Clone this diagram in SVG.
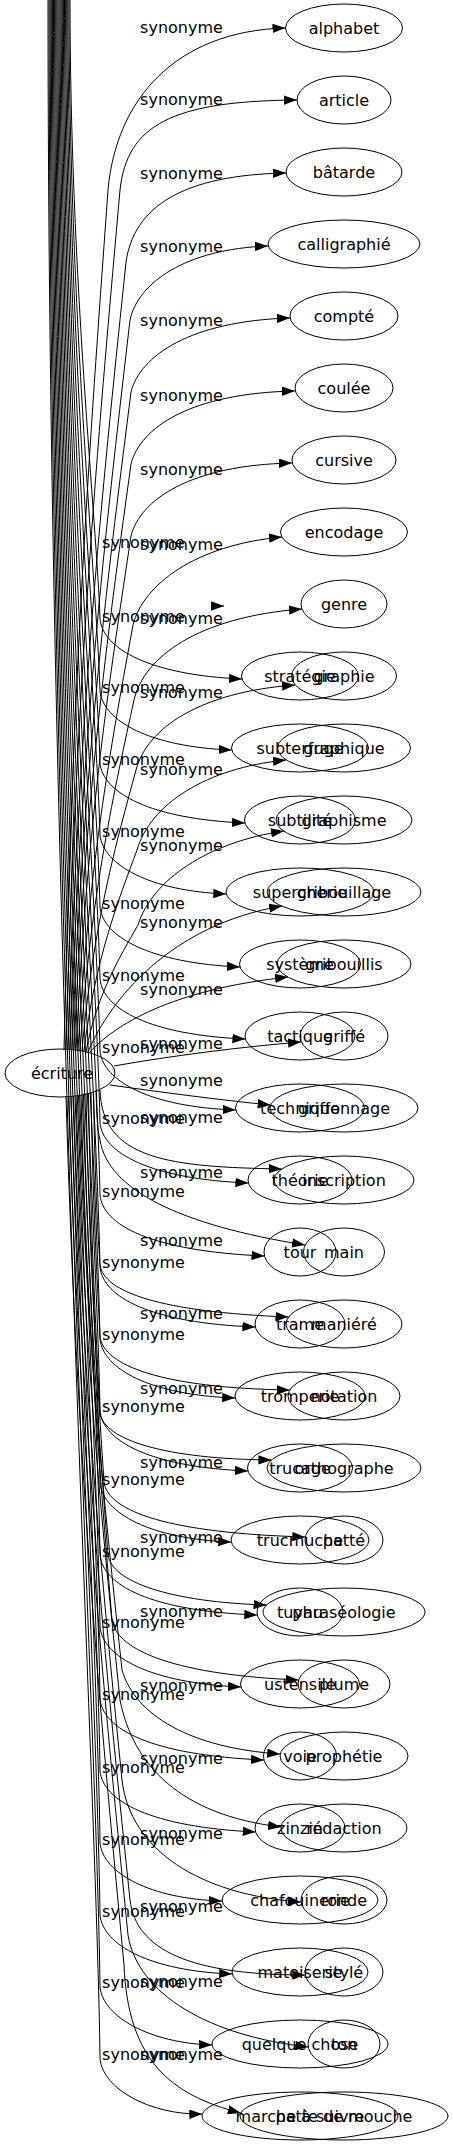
<svg xmlns="http://www.w3.org/2000/svg" width="453" height="2147" viewBox="0 0 453 2147">
<defs>
<style>
.node ellipse{fill:none;stroke:#000;stroke-width:1}
text{font-family:"DejaVu Sans","Liberation Sans",sans-serif;font-size:16px;fill:#000;text-anchor:middle}
#edges path{fill:none;stroke:#000;stroke-width:1;marker-end:url(#arr)}
</style>
<marker id="arr" viewBox="0 0 13 9.4" refX="13" refY="4.7" markerWidth="13" markerHeight="9.4" markerUnits="userSpaceOnUse" orient="auto"><path d="M0,0 L13,4.7 L0,9.4 z" fill="#000"/></marker>
</defs>
<rect width="453" height="2147" fill="#fff"/>
<g id="edges">
<path d="M64,1050 C72.8,663 92.6,405 108,190 C116,100 175,31 285.5,28"/>
<path d="M66,1050 C76.8,663 101.1,405 120,190 C127,125 172,101 297,100"/>
<path d="M68,1050 C79.6,695 105.7,459 126,262 C134,207 182,175 286,173"/>
<path d="M70,1050 C82,721.5 109,502.5 130,320 C138,283 185,249 268,246"/>
<path d="M72,1050 C83.8,754 110.4,556.5 131,392 C140,356 190,321 290,318"/>
<path d="M74,1050 C85.4,786 111,610.5 131,464 C140,428 190,393 295,391"/>
<path d="M76,1050 C87,819 111.75,664.5 131,536 C140,500 190,465 292,463"/>
<path d="M78,1050 C89,859 113.75,731 133,625 C143,585 195,545 282,537"/>
<path d="M80,1050 C90.8,892.5 115.1,787.5 134,700 C144,657 198,617 302,609"/>
<path d="M82,1051 C92.8,924.5 117.1,840 136,770 C147,728 200,692 295,685"/>
<path d="M84,1051 C94.6,960.5 118.5,900 137,850 C150,805 205,768 286,760"/>
<path d="M86,1052 C96.4,995 119.8,957 138,925 C152,880 208,842 284,831"/>
<path d="M88,1052 C110,1000 170,925 282,906"/>
<path d="M90,1052 C115,1025 170,990 288,977"/>
<path d="M114,1066 C170,1056 240,1047 301,1042"/>
<path d="M110,1085 C160,1092 220,1100 270.6,1105"/>
<path d="M100,1090 C102,1160 170,1167 281.8,1169"/>
<path d="M96,1091 C96.8,1113 97,1128 100,1140 C108,1190 180,1225 305,1245"/>
<path d="M93.5,1092 C94.8,1170 97,1222 100,1265 C104,1292 160,1312 288.5,1317"/>
<path d="M91,1093 C92.8,1203 97,1276 100,1337 C104,1365 160,1388 289.8,1390"/>
<path d="M88.5,1093.5 C90.8,1237 96,1333 100,1413 C104,1440 165,1459 271.4,1460"/>
<path d="M86,1094 C89.6,1268.6 97.7,1385 104,1482 C108,1512 170,1533 305.3,1537"/>
<path d="M83.5,1094.7 C88.4,1301.7 99.4,1440 108,1555 C112,1582 170,1602 266.5,1605"/>
<path d="M81,1095 C87.2,1331 101.2,1489 112,1620 C117,1652 180,1675 298.6,1680"/>
<path d="M78.5,1095.6 C87.2,1354 106.8,1526.5 122,1670 C135,1715 190,1748 280.2,1754"/>
<path d="M76,1096 C84.8,1368 104.6,1549 120,1700 C133,1765 180,1815 281,1827"/>
<path d="M73.5,1096.3 C83.2,1404 105,1609 122,1780 C130,1850 200,1895 301,1902"/>
<path d="M71,1096.5 C82.8,1458 109.35,1701 130,1900 C136,1950 190,1975 305.3,1975"/>
<path d="M68.5,1096.7 C80.4,1474 107.2,1725 128,1935 C138,1995 210,2036 308.3,2047"/>
<path d="M66,1096.9 C77.6,1487.5 103.7,1748 124,1965 C128,2060 170,2095 240.8,2113"/>
<path d="M212,606 L224,606"/>
<path d="M70,-2 C70,277.6 97,524.7 100,619 C103,649 150,675 242,679"/>
<path d="M68.9,-2 C68.9,311 97,588 100,691 C103,721 150,747 231.7,750"/>
<path d="M67.8,-2 C67.8,343.4 97,651.4 100,763 C103,793 150,819 245,823"/>
<path d="M66.7,-2 C66.7,375.8 97,714.8 100,835 C103,865 150,891 226.3,894"/>
<path d="M65.6,-2 C65.6,408 97,778 100,907 C103,937 150,963 240,967"/>
<path d="M64.5,-2 C64.5,440.6 97,841.5 100,979 C103,1009 150,1035 245.4,1039"/>
<path d="M63.4,-2 C63.4,473 97,905 100,1051 C103,1081 150,1107 235.7,1110"/>
<path d="M62.3,-2 C62.3,505.4 97,968.2 100,1123 C103,1153 150,1179 248.4,1183"/>
<path d="M61.2,-2 C61.2,537.8 97,1031.6 100,1195 C103,1225 150,1251 264.5,1256"/>
<path d="M60.1,-2 C60.1,570 97,1095 100,1267 C103,1297 150,1323 255.4,1327"/>
<path d="M59,-2 C59,602.6 97,1158.3 100,1339 C103,1369 150,1395 235.2,1398"/>
<path d="M57.9,-2 C57.9,635 97,1221.7 100,1411 C103,1441 150,1467 247.9,1471"/>
<path d="M56.8,-2 C56.8,667.4 97,1285 100,1483 C103,1513 150,1539 231.2,1542"/>
<path d="M55.7,-2 C55.7,699.8 97,1348.4 100,1555 C103,1585 150,1611 257.3,1615"/>
<path d="M54.6,-2 C54.6,732 97,1411.8 100,1627 C103,1657 150,1683 241,1687"/>
<path d="M53.5,-2 C53.5,764.6 97,1475 100,1699 C103,1729 150,1755 264,1760"/>
<path d="M52.4,-2 C52.4,797 97,1538.5 100,1771 C103,1801 150,1827 255.6,1832"/>
<path d="M51.3,-2 C51.3,829.4 97,1601.8 100,1843 C103,1873 150,1899 222,1901"/>
<path d="M50.2,-2 C50.2,861.8 97,1665.2 100,1915 C103,1945 150,1971 232.2,1974"/>
<path d="M49.1,-2 C49.1,894 97,1728.6 100,1987 C103,2017 150,2043 212,2045"/>
<path d="M48,-2 C48,926.6 97,1792 100,2059 C103,2089 150,2115 202.3,2114"/>
</g>
<g id="edge-labels">
<text x="181.5" y="33">synonyme</text>
<text x="181.5" y="105">synonyme</text>
<text x="181.5" y="179">synonyme</text>
<text x="181.5" y="252">synonyme</text>
<text x="181.5" y="326">synonyme</text>
<text x="181.5" y="401">synonyme</text>
<text x="181.5" y="475">synonyme</text>
<text x="181.5" y="550">synonyme</text>
<text x="181.5" y="624">synonyme</text>
<text x="181.5" y="698">synonyme</text>
<text x="181.5" y="775">synonyme</text>
<text x="181.5" y="851">synonyme</text>
<text x="181.5" y="928">synonyme</text>
<text x="181.5" y="995">synonyme</text>
<text x="181.5" y="1049">synonyme</text>
<text x="181.5" y="1086">synonyme</text>
<text x="181.5" y="1123">synonyme</text>
<text x="181.5" y="1178">synonyme</text>
<text x="181.5" y="1246">synonyme</text>
<text x="181.5" y="1319">synonyme</text>
<text x="181.5" y="1394">synonyme</text>
<text x="181.5" y="1468">synonyme</text>
<text x="181.5" y="1543">synonyme</text>
<text x="181.5" y="1617">synonyme</text>
<text x="181.5" y="1691">synonyme</text>
<text x="181.5" y="1764">synonyme</text>
<text x="181.5" y="1839">synonyme</text>
<text x="181.5" y="1912">synonyme</text>
<text x="181.5" y="1987">synonyme</text>
<text x="181.5" y="2060">synonyme</text>
<text x="143.5" y="548">synonyme</text>
<text x="143.5" y="622">synonyme</text>
<text x="143.5" y="693">synonyme</text>
<text x="143.5" y="765">synonyme</text>
<text x="143.5" y="837">synonyme</text>
<text x="143.5" y="909">synonyme</text>
<text x="143.5" y="981">synonyme</text>
<text x="143.5" y="1053">synonyme</text>
<text x="143.5" y="1124">synonyme</text>
<text x="143.5" y="1197">synonyme</text>
<text x="143.5" y="1268">synonyme</text>
<text x="143.5" y="1340">synonyme</text>
<text x="143.5" y="1412">synonyme</text>
<text x="143.5" y="1485">synonyme</text>
<text x="143.5" y="1557">synonyme</text>
<text x="143.5" y="1628">synonyme</text>
<text x="143.5" y="1700">synonyme</text>
<text x="143.5" y="1773">synonyme</text>
<text x="143.5" y="1845">synonyme</text>
<text x="143.5" y="1917">synonyme</text>
<text x="143.5" y="1988">synonyme</text>
<text x="143.5" y="2060">synonyme</text>
</g>
<g id="ecriture" class="node"><ellipse cx="60" cy="1073" rx="55" ry="24"/><text x="62" y="1079">écriture</text></g>
<g id="alphabet" class="node"><ellipse cx="344" cy="28" rx="58.5" ry="24"/><text x="344" y="34">alphabet</text></g>
<g id="article" class="node"><ellipse cx="344" cy="100" rx="47" ry="24"/><text x="344" y="106">article</text></g>
<g id="batarde" class="node"><ellipse cx="344" cy="172" rx="58" ry="24"/><text x="344" y="178">bâtarde</text></g>
<g id="calligraphie" class="node"><ellipse cx="344" cy="244" rx="76" ry="24"/><text x="344" y="250">calligraphié</text></g>
<g id="compte" class="node"><ellipse cx="344" cy="316" rx="54" ry="24"/><text x="344" y="322">compté</text></g>
<g id="coulee" class="node"><ellipse cx="344" cy="388" rx="49" ry="24"/><text x="344" y="394">coulée</text></g>
<g id="cursive" class="node"><ellipse cx="344" cy="460" rx="52" ry="24"/><text x="344" y="466">cursive</text></g>
<g id="encodage" class="node"><ellipse cx="344" cy="532" rx="63.5" ry="24"/><text x="344" y="538">encodage</text></g>
<g id="genre" class="node"><ellipse cx="344" cy="604" rx="43" ry="24"/><text x="344" y="610">genre</text></g>
<g id="graphie" class="node"><ellipse cx="344" cy="676" rx="52.5" ry="24"/><text x="344" y="682">graphie</text></g>
<g id="graphique" class="node"><ellipse cx="344" cy="748" rx="66.5" ry="24"/><text x="344" y="754">graphique</text></g>
<g id="graphisme" class="node"><ellipse cx="344" cy="820" rx="68" ry="24"/><text x="344" y="826">graphisme</text></g>
<g id="gribouillage" class="node"><ellipse cx="344" cy="892" rx="77" ry="24"/><text x="344" y="898">gribouillage</text></g>
<g id="gribouillis" class="node"><ellipse cx="344" cy="964" rx="67" ry="24"/><text x="344" y="970">gribouillis</text></g>
<g id="griffe" class="node"><ellipse cx="344" cy="1036" rx="44" ry="24"/><text x="344" y="1042">griffé</text></g>
<g id="griffonnage" class="node"><ellipse cx="344" cy="1108" rx="74" ry="24"/><text x="344" y="1114">griffonnage</text></g>
<g id="inscription" class="node"><ellipse cx="344" cy="1180" rx="70" ry="24"/><text x="344" y="1186">inscription</text></g>
<g id="main" class="node"><ellipse cx="344" cy="1252" rx="40.5" ry="24"/><text x="344" y="1258">main</text></g>
<g id="maniere" class="node"><ellipse cx="344" cy="1324" rx="58" ry="24"/><text x="344" y="1330">maniéré</text></g>
<g id="notation" class="node"><ellipse cx="344" cy="1396" rx="56" ry="24"/><text x="344" y="1402">notation</text></g>
<g id="orthographe" class="node"><ellipse cx="344" cy="1468" rx="77" ry="24"/><text x="344" y="1474">orthographe</text></g>
<g id="patte" class="node"><ellipse cx="344" cy="1540" rx="39" ry="24"/><text x="344" y="1546">patté</text></g>
<g id="phraseologie" class="node"><ellipse cx="344" cy="1612" rx="81" ry="24"/><text x="344" y="1618">phraséologie</text></g>
<g id="plume" class="node"><ellipse cx="344" cy="1684" rx="46" ry="24"/><text x="344" y="1690">plume</text></g>
<g id="prophetie" class="node"><ellipse cx="344" cy="1756" rx="64" ry="24"/><text x="344" y="1762">prophétie</text></g>
<g id="redaction" class="node"><ellipse cx="344" cy="1828" rx="63" ry="24"/><text x="344" y="1834">rédaction</text></g>
<g id="ronde" class="node"><ellipse cx="344" cy="1900" rx="43" ry="24"/><text x="344" y="1906">ronde</text></g>
<g id="style" class="node"><ellipse cx="344" cy="1972" rx="39" ry="24"/><text x="344" y="1978">stylé</text></g>
<g id="ton" class="node"><ellipse cx="344" cy="2044" rx="36" ry="24"/><text x="344" y="2050">ton</text></g>
<g id="patte-de-mouche" class="node"><ellipse cx="344" cy="2116" rx="104" ry="24"/><text x="344" y="2122">patte de mouche</text></g>
<g id="strategie" class="node"><ellipse cx="300" cy="676" rx="58.5" ry="24"/><text x="300" y="682">stratégie</text></g>
<g id="subterfuge" class="node"><ellipse cx="300" cy="748" rx="68.5" ry="24"/><text x="300" y="754">subterfuge</text></g>
<g id="subtilite" class="node"><ellipse cx="300" cy="820" rx="55.5" ry="24"/><text x="300" y="826">subtilité</text></g>
<g id="supercherie" class="node"><ellipse cx="300" cy="892" rx="74" ry="24"/><text x="300" y="898">supercherie</text></g>
<g id="systeme" class="node"><ellipse cx="300" cy="964" rx="60.5" ry="24"/><text x="300" y="970">système</text></g>
<g id="tactique" class="node"><ellipse cx="300" cy="1036" rx="55" ry="24"/><text x="300" y="1042">tactique</text></g>
<g id="technique" class="node"><ellipse cx="300" cy="1108" rx="64.5" ry="24"/><text x="300" y="1114">technique</text></g>
<g id="theorie" class="node"><ellipse cx="300" cy="1180" rx="52" ry="24"/><text x="300" y="1186">théorie</text></g>
<g id="tour" class="node"><ellipse cx="300" cy="1252" rx="36" ry="24"/><text x="300" y="1258">tour</text></g>
<g id="trame" class="node"><ellipse cx="300" cy="1324" rx="45" ry="24"/><text x="300" y="1330">trame</text></g>
<g id="tromperie" class="node"><ellipse cx="300" cy="1396" rx="65" ry="24"/><text x="300" y="1402">tromperie</text></g>
<g id="trucage" class="node"><ellipse cx="300" cy="1468" rx="52.5" ry="24"/><text x="300" y="1474">trucage</text></g>
<g id="trucmuche" class="node"><ellipse cx="300" cy="1540" rx="69" ry="24"/><text x="300" y="1546">trucmuche</text></g>
<g id="tuyau" class="node"><ellipse cx="300" cy="1612" rx="43" ry="24"/><text x="300" y="1618">tuyau</text></g>
<g id="ustensile" class="node"><ellipse cx="300" cy="1684" rx="59.5" ry="24"/><text x="300" y="1690">ustensile</text></g>
<g id="voie" class="node"><ellipse cx="300" cy="1756" rx="36.5" ry="24"/><text x="300" y="1762">voie</text></g>
<g id="zinzin" class="node"><ellipse cx="300" cy="1828" rx="45" ry="24"/><text x="300" y="1834">zinzin</text></g>
<g id="chafouinerie" class="node"><ellipse cx="300" cy="1900" rx="78" ry="24"/><text x="300" y="1906">chafouinerie</text></g>
<g id="matoiserie" class="node"><ellipse cx="300" cy="1972" rx="68" ry="24"/><text x="300" y="1978">matoiserie</text></g>
<g id="quelque-chose" class="node"><ellipse cx="300" cy="2044" rx="88" ry="24"/><text x="300" y="2050">quelque chose</text></g>
<g id="marche-a-suivre" class="node"><ellipse cx="300" cy="2116" rx="98" ry="24"/><text x="300" y="2122">marche à suivre</text></g>
</svg>
